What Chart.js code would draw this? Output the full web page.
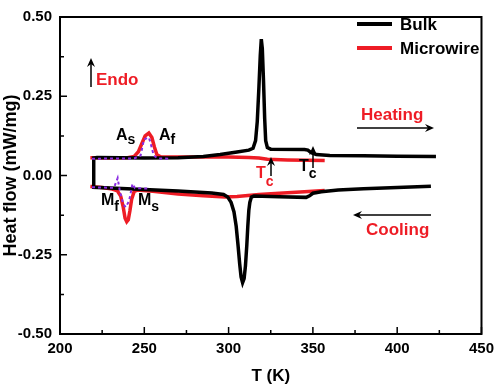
<!DOCTYPE html>
<html>
<head>
<meta charset="utf-8">
<script src="https://cdn.jsdelivr.net/npm/chart.js@4.4.0/dist/chart.umd.min.js"></script>
<style>
  html, body { margin: 0; padding: 0; background: #fff; }
  #wrap { width: 500px; height: 387px; }
</style>
</head>
<body>
<div id="wrap"><canvas id="dsc" width="500" height="387"></canvas></div>
<script>
const xTicks = [200, 250, 300, 350, 400, 450];
const yTicks = [-0.5, -0.25, 0, 0.25, 0.5];

// bulk: cooling run 420 -> 220 K, then heating run 220 -> 423 K
const bulkT = [420, 400, 380, 365, 355, 350, 348, 346, 330, 315, 313.5, 312.6, 312, 311.4, 310.8, 310, 309.2, 308.3,
  307.4, 306.6, 305.6, 304.5, 303.2, 301.5, 299.5, 297, 290, 270, 250, 220,
  220, 222, 250, 270, 285, 295, 305, 312, 314.5, 316, 317, 318, 318.8, 319.4, 320, 320.7, 321.4, 322, 323, 325,
  345, 347, 349, 352, 360, 380, 400, 423];
const bulkQ = [-0.034, -0.038, -0.042, -0.046, -0.051, -0.056, -0.064, -0.069, -0.067, -0.065, -0.068, -0.085, -0.11, -0.16, -0.22, -0.285, -0.325, -0.338,
  -0.32, -0.28, -0.22, -0.16, -0.115, -0.085, -0.068, -0.06, -0.055, -0.049, -0.044, -0.037,
  0.055, 0.057, 0.055, 0.056, 0.06, 0.066, 0.074, 0.08, 0.086, 0.11, 0.17, 0.28, 0.38, 0.43, 0.40, 0.30, 0.18, 0.11, 0.088, 0.083,
  0.082, 0.08, 0.072, 0.066, 0.063, 0.062, 0.061, 0.06];

// microwire: cooling 357 -> 218 K, gap, heating 218 -> 357 K
const wireT = [357, 345, 330, 318, 305, 298, 285, 270, 255, 246, 244, 242.5, 241.5, 240.5, 239.6, 238.6, 237.5, 236, 234, 231, 225, 218,
  218,
  218, 230, 240, 244, 246.5, 248.5, 250.5, 252.7, 254.5, 256, 257.5, 260, 280, 300, 312, 318, 323, 335, 357];
const wireQ = [-0.047, -0.051, -0.056, -0.06, -0.066, -0.068, -0.064, -0.058, -0.05, -0.046, -0.05, -0.075, -0.11, -0.14, -0.146, -0.135, -0.1, -0.065, -0.048, -0.043, -0.038, -0.035,
  null,
  0.056, 0.055, 0.056, 0.06, 0.075, 0.1, 0.125, 0.134, 0.12, 0.09, 0.065, 0.058, 0.058, 0.058, 0.057, 0.055, 0.051, 0.049, 0.047];

// microwire transformation fit (dotted)
const fitT = [219, 244, 247.8, 249.8, 252.7, 253.7, 255.6, 258, 265.6,
  265.6,
  219, 232, 234.2, 235.5, 237.5, 239, 241, 243, 244.5, 253];
const fitQ = [0.053, 0.054, 0.063, 0.114, 0.12, 0.103, 0.063, 0.054, 0.053,
  null,
  -0.037, -0.039, -0.008, -0.05, -0.09, -0.1, -0.08, -0.026, -0.04, -0.041];

const RED = '#ee1c25';
const FONT = '"Liberation Sans", Arial, sans-serif';

function toPoints(ts, qs) {
  return ts.map((t, i) => ({ x: t, y: qs[i] }));
}

function arrow(ctx, x1, y1, x2, y2) {
  const ang = Math.atan2(y2 - y1, x2 - x1);
  ctx.beginPath();
  ctx.moveTo(x1, y1);
  ctx.lineTo(x2 - 4 * Math.cos(ang), y2 - 4 * Math.sin(ang));
  ctx.stroke();
  ctx.beginPath();
  ctx.moveTo(x2, y2);
  ctx.lineTo(x2 - 9 * Math.cos(ang) + 4 * Math.sin(ang), y2 - 9 * Math.sin(ang) - 4 * Math.cos(ang));
  ctx.lineTo(x2 - 6 * Math.cos(ang), y2 - 6 * Math.sin(ang));
  ctx.lineTo(x2 - 9 * Math.cos(ang) - 4 * Math.sin(ang), y2 - 9 * Math.sin(ang) + 4 * Math.cos(ang));
  ctx.closePath();
  ctx.fill();
}

function subLabel(ctx, main, sub, x, y, drop, color) {
  ctx.fillStyle = color;
  ctx.textBaseline = 'alphabetic';
  ctx.textAlign = 'left';
  ctx.font = 'bold 16px ' + FONT;
  ctx.fillText(main, x, y);
  const w = ctx.measureText(main).width;
  ctx.font = 'bold 14px ' + FONT;
  ctx.fillText(sub, x + w, y + drop);
}

const frameTicks = {
  id: 'frameTicks',
  afterDatasetsDraw(chart) {
    const { ctx, chartArea: a, scales: { x, y } } = chart;
    ctx.save();
    ctx.strokeStyle = '#000';
    ctx.lineWidth = 1.5;
    ctx.beginPath();
    xTicks.forEach((v, i) => {
      const px = x.getPixelForValue(v);
      ctx.moveTo(px, a.bottom); ctx.lineTo(px, a.bottom - 7);
      if (i < xTicks.length - 1) {
        const mx = x.getPixelForValue((v + xTicks[i + 1]) / 2);
        ctx.moveTo(mx, a.bottom); ctx.lineTo(mx, a.bottom - 4);
      }
    });
    yTicks.forEach((v, i) => {
      const py = y.getPixelForValue(v);
      ctx.moveTo(a.left, py); ctx.lineTo(a.left + 7, py);
      if (i < yTicks.length - 1) {
        const my = y.getPixelForValue((v + yTicks[i + 1]) / 2);
        ctx.moveTo(a.left, my); ctx.lineTo(a.left + 4, my);
      }
    });
    ctx.stroke();
    ctx.lineWidth = 2;
    ctx.strokeRect(a.left, a.top, a.right - a.left, a.bottom - a.top);
    ctx.restore();
  }
};

const notes = {
  id: 'notes',
  afterDraw(chart) {
    const ctx = chart.ctx;
    ctx.save();

    // legend
    chart.data.datasets.forEach((ds, i) => {
      if (!ds.label) return;
      const ly = 24 + i * 24;
      ctx.strokeStyle = ds.borderColor;
      ctx.lineWidth = 4;
      ctx.beginPath();
      ctx.moveTo(357, ly); ctx.lineTo(392, ly);
      ctx.stroke();
      ctx.fillStyle = '#000';
      ctx.font = 'bold 17px ' + FONT;
      ctx.textAlign = 'left';
      ctx.textBaseline = 'middle';
      ctx.fillText(ds.label, 400, ly + 1);
    });

    ctx.strokeStyle = '#000';
    ctx.fillStyle = '#000';
    ctx.lineWidth = 1.5;
    arrow(ctx, 91, 87, 91, 58);
    arrow(ctx, 357, 128, 434, 128);
    arrow(ctx, 431, 215, 353, 215);
    arrow(ctx, 271, 176, 271, 157);
    arrow(ctx, 313, 168, 313, 146);

    ctx.font = 'bold 17px ' + FONT;
    ctx.textBaseline = 'alphabetic';
    ctx.textAlign = 'left';
    ctx.fillStyle = RED;
    ctx.fillText('Endo', 96, 85);
    ctx.fillText('Heating', 361, 120);
    ctx.fillText('Cooling', 366, 235);

    subLabel(ctx, 'A', 's', 116, 140, 4, '#000');
    subLabel(ctx, 'A', 'f', 159, 140, 4, '#000');
    subLabel(ctx, 'M', 'f', 101, 205, 6, '#000');
    subLabel(ctx, 'M', 's', 138, 205, 6, '#000');
    subLabel(ctx, 'T', 'c', 256, 178, 8, RED);
    subLabel(ctx, 'T', 'c', 299, 171, 7, '#000');
    ctx.restore();
  }
};

new Chart(document.getElementById('dsc'), {
  type: 'scatter',
  data: {
    datasets: [
      {
        label: 'Bulk',
        data: toPoints(bulkT, bulkQ),
        showLine: true,
        borderColor: '#000',
        borderWidth: 3.5,
        pointRadius: 0,
        spanGaps: false,
        order: 1
      },
      {
        label: 'Microwire',
        data: toPoints(wireT, wireQ),
        showLine: true,
        borderColor: RED,
        borderWidth: 3.5,
        pointRadius: 0,
        spanGaps: false,
        order: 2
      },
      {
        label: '',
        data: toPoints(fitT, fitQ),
        showLine: true,
        borderColor: '#8a2be2',
        borderWidth: 2,
        borderDash: [3, 3],
        pointRadius: 0,
        spanGaps: false,
        order: 0
      }
    ]
  },
  options: {
    responsive: false,
    animation: false,
    devicePixelRatio: 1,
    layout: { padding: { top: 7, right: 13, left: 0, bottom: 0 } },
    plugins: { legend: { display: false }, tooltip: { enabled: false } },
    scales: {
      x: {
        type: 'linear',
        min: 200,
        max: 450,
        afterBuildTicks: s => { s.ticks = xTicks.map(v => ({ value: v })); },
        afterFit: s => { s.height = 53; },
        grid: { display: false, drawTicks: false },
        border: { display: false },
        ticks: { color: '#000', padding: 6, font: { family: FONT, size: 15, weight: 'bold' } },
        title: { display: true, text: 'T (K)', color: '#000', padding: 0, font: { family: FONT, size: 17, weight: 'bold' } }
      },
      y: {
        min: -0.5,
        max: 0.5,
        afterBuildTicks: s => { s.ticks = yTicks.map(v => ({ value: v })); },
        afterFit: s => { s.width = 60; },
        grid: { display: false, drawTicks: false },
        border: { display: false },
        ticks: {
          color: '#000',
          padding: 8,
          font: { family: FONT, size: 15, weight: 'bold' },
          callback: v => v.toFixed(2)
        },
        title: { display: true, text: 'Heat flow (mW/mg)', color: '#000', padding: 0, font: { family: FONT, size: 18, weight: 'bold' } }
      }
    }
  },
  plugins: [frameTicks, notes]
});
</script>
</body>
</html>
